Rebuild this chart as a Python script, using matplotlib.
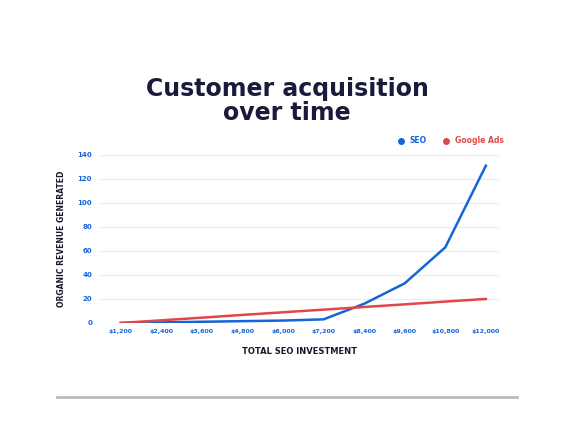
import matplotlib.pyplot as plt
from matplotlib.lines import Line2D

invest = [1200, 2400, 3600, 4800, 6000, 7200, 8400, 9600, 10800, 12000]
tick_labels = ['$1,200', '$2,400', '$3,600', '$4,800', '$6,000', '$7,200',
               '$8,400', '$9,600', '$10,800', '$12,000']
seo = [0, 0.5, 1, 1.5, 2, 3, 16, 33, 63, 131]
ads = [0, 2.2, 4.4, 6.7, 8.9, 11.1, 13.3, 15.5, 17.8, 20]

fig = plt.figure(figsize=(5.74, 4.4), dpi=100)
fig.patch.set_facecolor('white')
ax = fig.add_axes([0.175, 0.266, 0.695, 0.382])

ax.plot(invest, seo, color='#1565d8', lw=1.8)
ax.plot(invest, ads, color='#e04848', lw=1.8)
ax.set_xlim(600, 12400)
ax.set_ylim(0, 140)
ax.set_xticks(invest)
ax.set_xticklabels(tick_labels, fontsize=4.5, color='#1565d8', fontweight='bold')
ax.set_yticks(range(0, 141, 20))
ax.tick_params(axis='y', labelsize=5, labelcolor='#1565d8', length=0, pad=6)
ax.tick_params(axis='x', length=0, pad=4)
for lbl in ax.get_yticklabels():
    lbl.set_fontweight('bold')
ax.grid(axis='y', color='#e8ecf2', lw=0.8)
for s in ax.spines.values():
    s.set_visible(False)
ax.set_xlabel('TOTAL SEO INVESTMENT', fontsize=6, fontweight='bold', color='#1a1a2e', labelpad=10)
ax.set_ylabel('ORGANIC REVENUE GENERATED', fontsize=5.5, fontweight='bold', color='#1a1a2e', labelpad=8)

handles = [Line2D([], [], marker='o', ls='', color='#1565d8', ms=4),
           Line2D([], [], marker='o', ls='', color='#e04848', ms=4)]
leg = fig.legend(handles, ['SEO', 'Google Ads'], loc='center right', bbox_to_anchor=(0.89, 0.68),
                 ncol=2, frameon=False, fontsize=5.5, handletextpad=0.2, columnspacing=1.5,
                 labelcolor=['#1565d8', '#e04848'])
for t in leg.get_texts():
    t.set_fontweight('bold')

fig.text(0.5, 0.77, 'Customer acquisition\nover time', ha='center', va='center',
         fontsize=17, fontweight='bold', color='#1a1a3a', linespacing=1.0)

fig.add_artist(Line2D([0.1, 0.9], [0.098, 0.098], color='#bbbbbb', lw=2))
fig.savefig('out.png', dpi=100)
